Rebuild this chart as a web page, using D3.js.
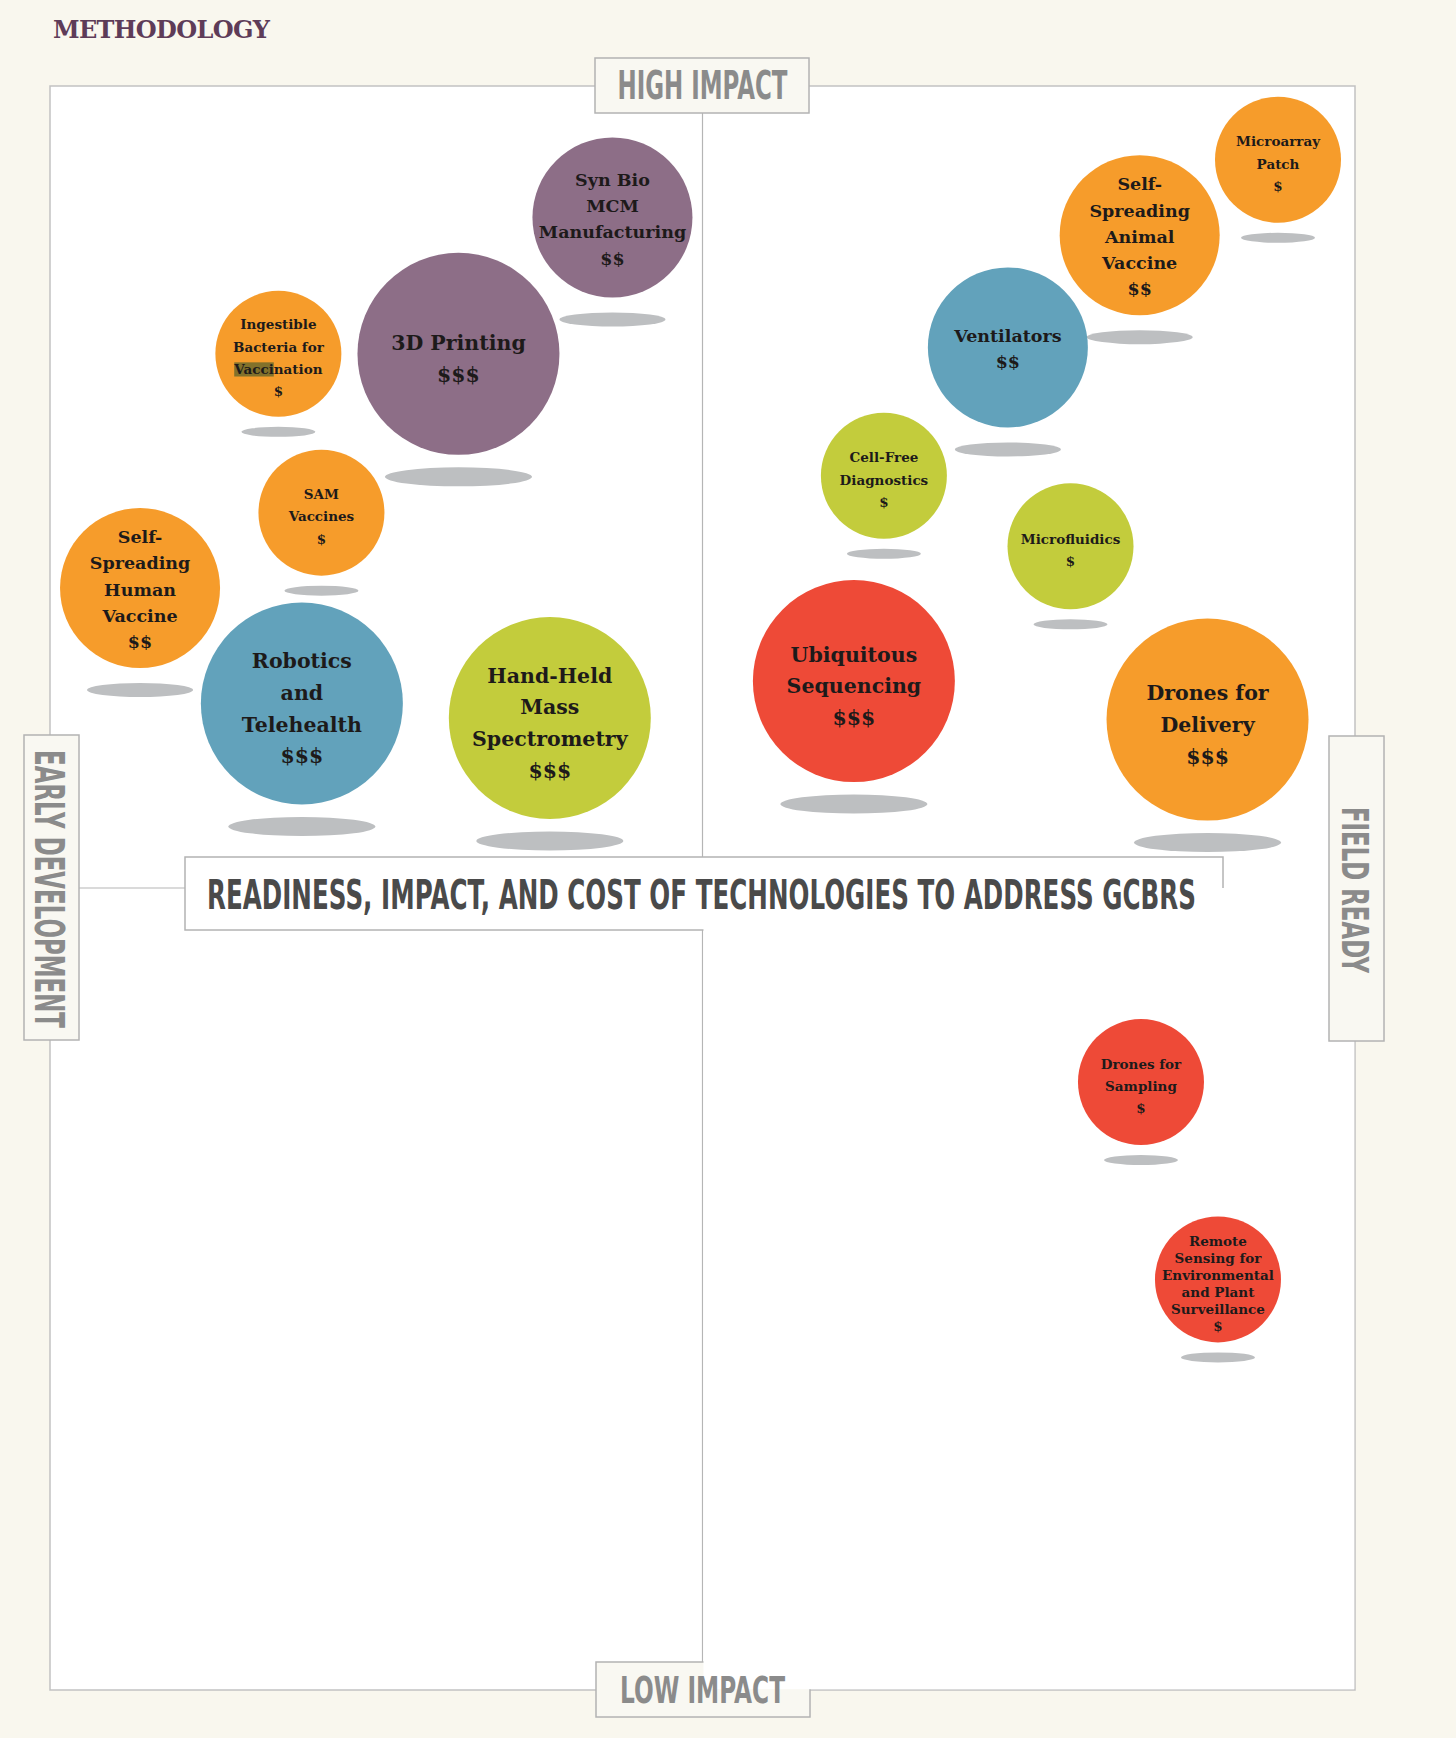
<!DOCTYPE html>
<html><head><meta charset="utf-8">
<script src="https://cdn.jsdelivr.net/npm/d3@7"></script>
<style>html,body{margin:0;padding:0;background:#f9f7ee;} svg{display:block}</style>
</head><body><div id="chart"></div>
<script>
// ---------- data ----------
const technologies = [
  "Syn Bio|MCM|Manufacturing",
  "3D Printing",
  "Ingestible|Bacteria for|Vaccination",
  "SAM|Vaccines",
  "Self-|Spreading|Human|Vaccine",
  "Robotics|and|Telehealth",
  "Hand-Held|Mass|Spectrometry",
  "Microarray|Patch",
  "Self-|Spreading|Animal|Vaccine",
  "Ventilators",
  "Cell-Free|Diagnostics",
  "Microfluidics",
  "Ubiquitous|Sequencing",
  "Drones for|Delivery",
  "Drones for|Sampling",
  "Remote|Sensing for|Environmental|and Plant|Surveillance"
];
// readiness: 0 = early development, 100 = field ready
const readiness = [43.1, 31.3, 17.5, 20.8, 6.9, 19.3, 38.3, 94.1, 83.5, 73.4, 63.9, 78.2, 61.6, 88.7, 83.6, 89.5];
// impact: 0 = low impact, 100 = high impact
const impact    = [91.8, 83.3, 83.3, 73.4, 68.7, 61.5, 60.6, 95.4, 90.7, 83.7, 75.7, 71.3, 62.9, 60.5, 37.9, 25.6];
const cost      = ["$$", "$$$", "$", "$", "$$", "$$$", "$$$", "$", "$$", "$$", "$", "$", "$$$", "$$$", "$", "$"];
const category  = ["Manufacturing", "Manufacturing", "Delivery", "Delivery", "Delivery", "Care", "Diagnostics",
                   "Delivery", "Delivery", "Care", "Diagnostics", "Diagnostics", "Surveillance", "Delivery",
                   "Surveillance", "Surveillance"];
const categoryNames  = ["Manufacturing", "Delivery", "Care", "Diagnostics", "Surveillance"];
const categoryColors = ["#8d6e87", "#f69c2b", "#62a2bb", "#c3cc3c", "#ee4a37"];
const costLevels = ["$", "$$", "$$$"];

const headerText = "METHODOLOGY";
const titleText  = "READINESS, IMPACT, AND COST OF TECHNOLOGIES TO ADDRESS GCBRS";
const topLabel = "HIGH IMPACT", bottomLabel = "LOW IMPACT";
const leftLabel = "EARLY DEVELOPMENT", rightLabel = "FIELD READY";
// text-selection highlight visible in the source image ("Vacci" of "Vaccination")
const selectionHighlight = {tech: 2, line: 2, from: 0, count: 5};

// ---------- scales ----------
const W = 1456, H = 1738;
const x = d3.scaleLinear().domain([0, 100]).range([50, 1355]);
const y = d3.scaleLinear().domain([0, 100]).range([1690, 86]);
const color = d3.scaleOrdinal().domain(categoryNames).range(categoryColors);
const radius = d3.scaleOrdinal().domain(costLevels).range([63, 80, 101]);
const fontSize = d3.scaleOrdinal().domain(costLevels).range([13.5, 17.5, 20.5]);
const lineHeight = d3.scaleOrdinal().domain(costLevels).range([22.3, 26.3, 31.7]);
const baselineShift = d3.scaleOrdinal().domain(costLevels).range([8.8, 7.7, 12.3]);
const shadowOffset = d3.scaleLinear().domain([63, 80, 101]).range([78, 102, 123]);
const shadowRx = d3.scaleLinear().domain([63, 80, 101]).range([37, 53, 73.5]);
const shadowRy = d3.scaleLinear().domain([63, 80, 101]).range([5, 7, 9.5]);

const svg = d3.select("#chart").append("svg").attr("width", W).attr("height", H);

const X0 = x.range()[0], X1 = x.range()[1];
const YB = y.range()[0], YT = y.range()[1];
const XM = x(50), YM = y(50);
const cream = "#f9f7ee", boxFill = "#f9f8f2", border = "#c2c2c2", boxBorder = "#b3b3b3";
const labelGray = "#8b8b8b";

svg.append("rect").attr("width", W).attr("height", H).attr("fill", cream);

// header
svg.append("text").attr("x", 53).attr("y", 38)
  .attr("font-family", "DejaVu Serif").attr("font-weight", "bold").attr("font-size", 24)
  .attr("fill", "#5e3c58").attr("textLength", 217).attr("lengthAdjust", "spacing")
  .text(headerText);

// plot frame
svg.append("rect").attr("x", X0).attr("y", YT).attr("width", X1 - X0).attr("height", YB - YT)
  .attr("fill", "#fff").attr("stroke", border).attr("stroke-width", 1.5);
svg.append("line").attr("x1", XM).attr("x2", XM).attr("y1", YT).attr("y2", YB)
  .attr("stroke", "#b5b5b5").attr("stroke-width", 1.2);
svg.append("line").attr("x1", X0).attr("x2", XM).attr("y1", YM).attr("y2", YM)
  .attr("stroke", "#b5b5b5").attr("stroke-width", 1.2);

// low impact box (partly hidden by the lower right panel)
const lowBox = {x: XM - 106.5, y: YB - 28, w: 214, h: 55};
svg.append("rect").attr("x", lowBox.x).attr("y", lowBox.y).attr("width", lowBox.w).attr("height", lowBox.h)
  .attr("fill", boxFill).attr("stroke", boxBorder).attr("stroke-width", 1.5);

// title box
const tBox = {x: 185, y: YM - 31, w: 1038, h: 73};
svg.append("rect").attr("x", tBox.x).attr("y", tBox.y).attr("width", tBox.w).attr("height", tBox.h)
  .attr("fill", "#fff").attr("stroke", boxBorder).attr("stroke-width", 1.5);

// lower-right panel on top
svg.append("rect").attr("x", XM + 1).attr("y", YM).attr("width", X1 - XM - 1.8).attr("height", YB - YM - 0.8)
  .attr("fill", "#fff");

svg.append("text").attr("x", 207).attr("y", YM + 21)
  .attr("font-family", "DejaVu Sans").attr("font-weight", "bold").attr("font-size", 41)
  .attr("fill", "#4a4a4a").attr("textLength", 989).attr("lengthAdjust", "spacingAndGlyphs")
  .text(titleText);

svg.append("text").attr("x", XM).attr("y", YB + 13).attr("text-anchor", "middle")
  .attr("font-family", "DejaVu Sans").attr("font-weight", "bold").attr("font-size", 38)
  .attr("fill", labelGray).attr("textLength", 165).attr("lengthAdjust", "spacingAndGlyphs")
  .text(bottomLabel);

// high impact box
svg.append("rect").attr("x", XM - 107.5).attr("y", YT - 28).attr("width", 214).attr("height", 55)
  .attr("fill", boxFill).attr("stroke", boxBorder).attr("stroke-width", 1.5);
svg.append("text").attr("x", XM).attr("y", YT + 13).attr("text-anchor", "middle")
  .attr("font-family", "DejaVu Sans").attr("font-weight", "bold").attr("font-size", 39)
  .attr("fill", labelGray).attr("textLength", 170).attr("lengthAdjust", "spacingAndGlyphs")
  .text(topLabel);

// side boxes
svg.append("rect").attr("x", X0 - 26).attr("y", YM - 153).attr("width", 55).attr("height", 305)
  .attr("fill", boxFill).attr("stroke", boxBorder).attr("stroke-width", 1.5);
svg.append("text").attr("transform", `translate(${X0 - 15},${YM + 1}) rotate(90)`).attr("text-anchor", "middle")
  .attr("font-family", "DejaVu Sans").attr("font-weight", "bold").attr("font-size", 41)
  .attr("fill", labelGray).attr("textLength", 278).attr("lengthAdjust", "spacingAndGlyphs")
  .text(leftLabel);

svg.append("rect").attr("x", X1 - 26).attr("y", YM - 152).attr("width", 55).attr("height", 305)
  .attr("fill", boxFill).attr("stroke", boxBorder).attr("stroke-width", 1.5);
svg.append("text").attr("transform", `translate(${X1 - 13},${YM + 2}) rotate(90)`).attr("text-anchor", "middle")
  .attr("font-family", "DejaVu Sans").attr("font-weight", "bold").attr("font-size", 38)
  .attr("fill", labelGray).attr("textLength", 166).attr("lengthAdjust", "spacingAndGlyphs")
  .text(rightLabel);

// ---------- bubbles ----------
const data = technologies.map((t, i) => ({
  lines: t.split("|").concat([cost[i]]),
  readiness: readiness[i], impact: impact[i], cost: cost[i], category: category[i], i
}));

const gShadow = svg.append("g");
gShadow.selectAll("ellipse").data(data).join("ellipse")
  .attr("cx", d => x(d.readiness))
  .attr("cy", d => y(d.impact) + shadowOffset(radius(d.cost)))
  .attr("rx", d => shadowRx(radius(d.cost)))
  .attr("ry", d => shadowRy(radius(d.cost)))
  .attr("fill", "#bdbfc1");

const bubbles = svg.append("g").selectAll("g").data(data).join("g")
  .attr("transform", d => `translate(${x(d.readiness)},${y(d.impact)})`);

bubbles.append("circle").attr("r", d => radius(d.cost)).attr("fill", d => color(d.category));

bubbles.each(function(d) {
  const g = d3.select(this);
  const r = radius(d.cost), fs = fontSize(d.cost);
  const n = d.lines.length;
  const lh = Math.min(lineHeight(d.cost), (2 * r - 24) / n);
  const text = g.append("text").attr("text-anchor", "middle")
    .attr("font-family", "DejaVu Serif").attr("font-weight", "bold").attr("font-size", fs)
    .attr("fill", "#1d1a1a");
  text.selectAll("tspan").data(d.lines).join("tspan")
    .attr("x", 0)
    .attr("y", (l, j) => (j - (n - 1) / 2) * lh + baselineShift(d.cost))
    .text(l => l);
  if (d.i === selectionHighlight.tech) {
    const ts = text.selectAll("tspan").nodes()[selectionHighlight.line];
    const p = ts.getStartPositionOfChar(selectionHighlight.from);
    const w = ts.getSubStringLength(selectionHighlight.from, selectionHighlight.count);
    g.insert("rect", "text").attr("x", p.x).attr("y", p.y - fs * 0.85).attr("width", w).attr("height", fs * 1.05)
      .attr("fill", "#6d6a2c").attr("opacity", 0.85);
  }
});
</script>
</body></html>
